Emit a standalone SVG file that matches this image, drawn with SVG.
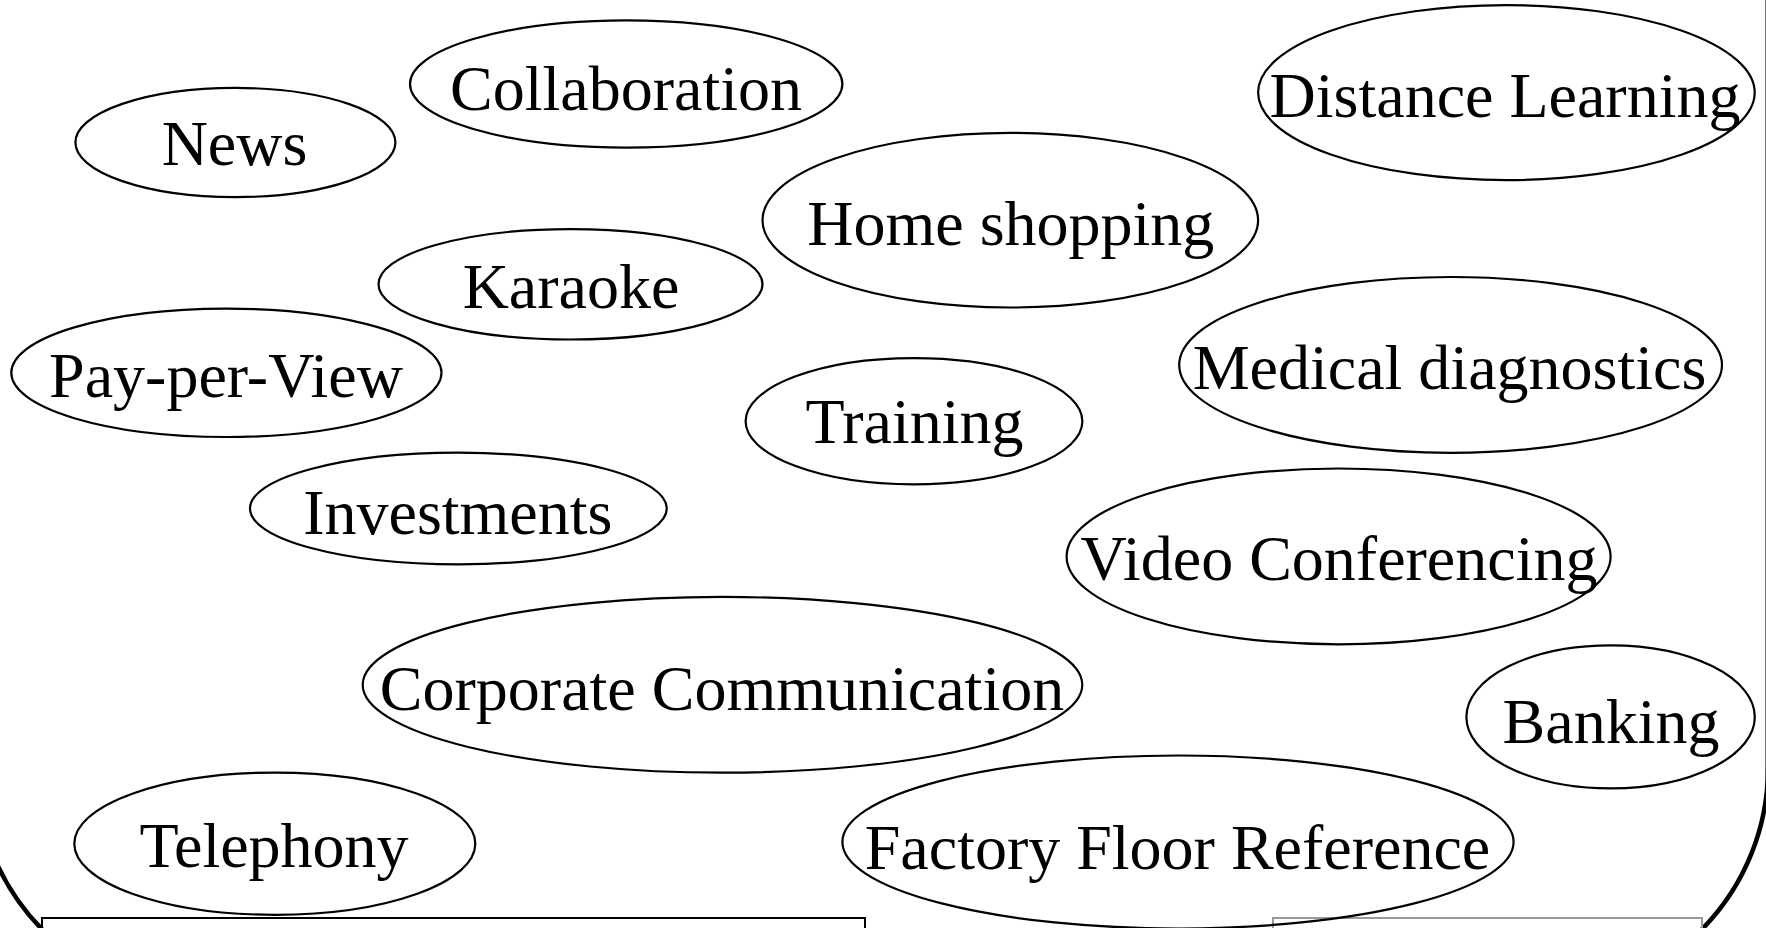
<svg xmlns="http://www.w3.org/2000/svg" width="1766" height="928" viewBox="0 0 1766 928">
  <style>
    .node ellipse { fill: none; stroke: #000; stroke-width: 2.2; }
    .node text { font-family: "Liberation Serif", "Times New Roman", serif; font-size: 64px; fill: #000; text-anchor: middle; }
    .frame { fill: none; stroke: #000; stroke-width: 4.5; }
  </style>
  <rect width="1766" height="928" fill="#fff"/>

  <!-- page edge on the right -->
  <line x1="1765.5" y1="0" x2="1765.5" y2="805" stroke="#999" stroke-width="1"/>

  <!-- rounded frame enclosing all services -->
  <rect class="frame" x="-24" y="-400" width="1792" height="1398" rx="230" ry="230"/>

  <!-- boxes along the bottom edge -->
  <rect x="42" y="918" width="823" height="40" fill="none" stroke="#000" stroke-width="2"/>
  <rect x="1273" y="918" width="429" height="40" fill="none" stroke="#999" stroke-width="2"/>

  <g id="news" class="node">
    <ellipse cx="235.4" cy="142.5" rx="160" ry="54.6"/>
    <text x="234.5" y="164.5">News</text>
  </g>
  <g id="collaboration" class="node">
    <ellipse cx="626.2" cy="84" rx="216.2" ry="63.6"/>
    <text x="626" y="110">Collaboration</text>
  </g>
  <g id="distance-learning" class="node">
    <ellipse cx="1506.4" cy="92.6" rx="248.3" ry="87.5"/>
    <text x="1505" y="116.5">Distance Learning</text>
  </g>
  <g id="home-shopping" class="node">
    <ellipse cx="1010.3" cy="220.2" rx="247.8" ry="87.3"/>
    <text x="1010.8" y="245">Home shopping</text>
  </g>
  <g id="karaoke" class="node">
    <ellipse cx="570.5" cy="284.3" rx="192" ry="55.2"/>
    <text x="571" y="307.5">Karaoke</text>
  </g>
  <g id="pay-per-view" class="node">
    <ellipse cx="226.4" cy="372.8" rx="215.1" ry="64.2"/>
    <text x="226" y="396.5">Pay-per-View</text>
  </g>
  <g id="medical-diagnostics" class="node">
    <ellipse cx="1450.6" cy="364.9" rx="271.4" ry="87.9"/>
    <text x="1449.5" y="388.6">Medical diagnostics</text>
  </g>
  <g id="training" class="node">
    <ellipse cx="914" cy="421.2" rx="168.4" ry="63.1"/>
    <text x="914.5" y="442.6">Training</text>
  </g>
  <g id="investments" class="node">
    <ellipse cx="458.4" cy="508.5" rx="208.4" ry="55.8"/>
    <text x="457.8" y="533.9">Investments</text>
  </g>
  <g id="video-conferencing" class="node">
    <ellipse cx="1338.6" cy="556.4" rx="272" ry="87.9"/>
    <text x="1339" y="580">Video Conferencing</text>
  </g>
  <g id="corporate-communication" class="node">
    <ellipse cx="722.5" cy="684.8" rx="359.8" ry="87.9"/>
    <text x="722" y="709.6">Corporate Communication</text>
  </g>
  <g id="banking" class="node">
    <ellipse cx="1610.6" cy="716.9" rx="144.2" ry="71.5"/>
    <text x="1611" y="743.3">Banking</text>
  </g>
  <g id="telephony" class="node">
    <ellipse cx="274.8" cy="843.7" rx="200.5" ry="71.1"/>
    <text x="274" y="867">Telephony</text>
  </g>
  <g id="factory-floor-reference" class="node">
    <ellipse cx="1178" cy="842" rx="335.6" ry="86.5"/>
    <text x="1177.5" y="869">Factory Floor Reference</text>
  </g>
</svg>
